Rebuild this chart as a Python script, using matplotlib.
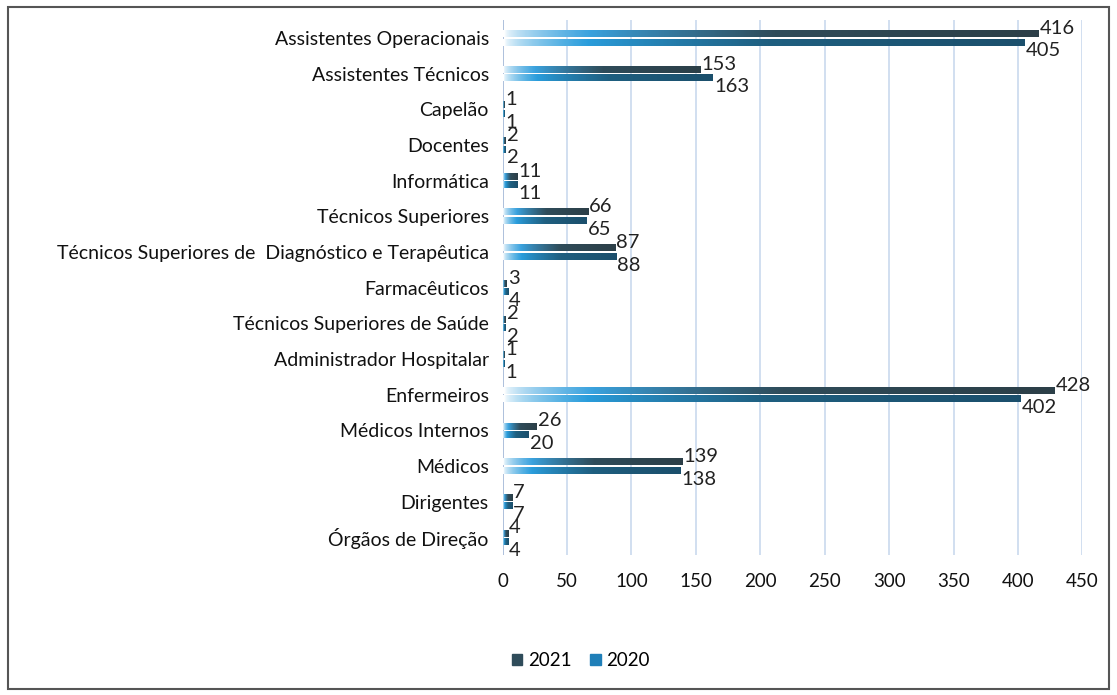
import numpy as np
import matplotlib.pyplot as plt
from matplotlib.colors import LinearSegmentedColormap
from matplotlib.patches import Rectangle

plt.rcParams['font.family'] = ['Lato', 'DejaVu Sans']

categorias = ['Assistentes Operacionais', 'Assistentes Técnicos', 'Capelão', 'Docentes',
              'Informática', 'Técnicos Superiores',
              'Técnicos Superiores de  Diagnóstico e Terapêutica', 'Farmacêuticos',
              'Técnicos Superiores de Saúde', 'Administrador Hospitalar', 'Enfermeiros',
              'Médicos Internos', 'Médicos', 'Dirigentes', 'Órgãos de Direção']
v2021 = [416, 153, 1, 2, 11, 66, 87, 3, 2, 1, 428, 26, 139, 7, 4]
v2020 = [405, 163, 1, 2, 11, 65, 88, 4, 2, 1, 402, 20, 138, 7, 4]
xticks = [0, 50, 100, 150, 200, 250, 300, 350, 400, 450]

cm21 = LinearSegmentedColormap.from_list('c21', ['#ffffff', '#3aa2de', '#2f4c5a', '#2c3f48'])
cm20 = LinearSegmentedColormap.from_list('c20', ['#ffffff', '#2a9ddc', '#1f5f80', '#1b4f6c'])

fig = plt.figure(figsize=(11.17, 6.95), dpi=100)
ax = fig.add_axes([0.450, 0.201, 0.519, 0.770])

y = np.arange(len(categorias))
h = 0.17
b21 = ax.barh(y - 0.11, v2021, height=h, color='none')
b20 = ax.barh(y + 0.13, v2020, height=h, color='none')

# gradient fill, light at the start of each bar, dark at its end
for bars, cm in ((b21, cm21), (b20, cm20)):
    for r in bars:
        x0, y0, w, hh = r.get_x(), r.get_y(), r.get_width(), r.get_height()
        g = np.linspace(0, 1, 200).reshape(1, -1) ** 0.6
        ax.imshow(g, cmap=cm, aspect='auto', extent=(x0, x0 + w, y0 + hh, y0),
                  zorder=3, interpolation='bilinear')

for i in range(len(categorias)):
    ax.annotate(str(v2021[i]), (v2021[i], y[i] - 0.11), xytext=(1, 4),
                textcoords='offset points', ha='left', va='center', fontsize=14.5, color='#222222')
    ax.annotate(str(v2020[i]), (v2020[i], y[i] + 0.13), xytext=(1, -6),
                textcoords='offset points', ha='left', va='center', fontsize=14.5, color='#222222')

ax.set_xlim(0, 450)
ax.set_ylim(len(categorias) - 0.5, -0.5)
ax.set_yticks(y)
ax.set_yticklabels(categorias, fontsize=14, color='#111111')
ax.set_xticks(xticks)
ax.tick_params(axis='x', labelsize=13.5, pad=13, length=0, colors='#111111')
ax.tick_params(axis='y', length=0, pad=10)
ax.grid(axis='x', color='#c9d9ee', linewidth=1.2)
ax.set_axisbelow(True)
for s in ax.spines.values():
    s.set_visible(False)
ax.axvline(0, color='#a8bcd8', linewidth=1.2, zorder=2)

# legend
h1 = Rectangle((0, 0), 1, 1, color='#2f4c5a')
h2 = Rectangle((0, 0), 1, 1, color='#1f7fb8')
fig.legend([h1, h2], ['2021', '2020'], loc='center', bbox_to_anchor=(0.52, 0.049),
           ncol=2, frameon=False, fontsize=13.5, handlelength=0.55, handleheight=0.55,
           handletextpad=0.3, columnspacing=1.0)

fig.patches.append(Rectangle((0.007, 0.008), 0.986, 0.982, transform=fig.transFigure,
                             fill=False, edgecolor='#555555', linewidth=1.5))

fig.savefig('out.png', dpi=100)
